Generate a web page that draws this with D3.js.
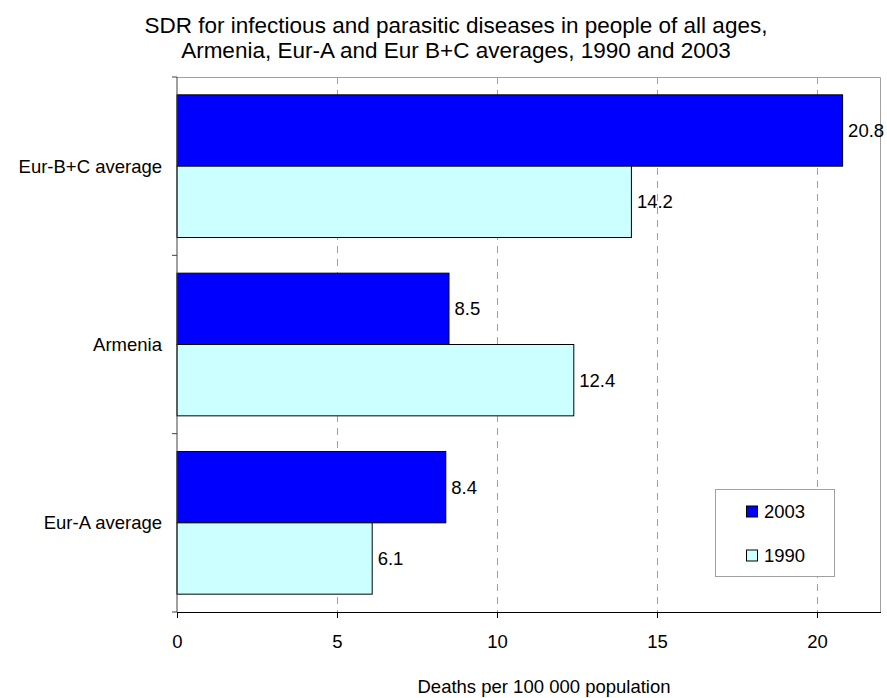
<!DOCTYPE html>
<html><head><meta charset="utf-8">
<script src="https://cdn.jsdelivr.net/npm/d3@7"></script>
<style>body{margin:0;background:#fff;font-family:"Liberation Sans",Arial,sans-serif;}</style>
</head><body><svg id="c" width="887" height="698"></svg>
<script>
const categories = ["Eur-B+C average", "Armenia", "Eur-A average"];
const series = ["2003", "1990"];
const values2003 = [20.8, 8.5, 8.4];
const values1990 = [14.2, 12.4, 6.1];
const xTicks = [0, 5, 10, 15, 20];
const colors = {"2003": "#0000FF", "1990": "#CCFFFF"};
const titleLines = ["SDR for infectious and parasitic diseases in people of all ages,", "Armenia, Eur-A and Eur B+C averages, 1990 and 2003"];
const xTitle = "Deaths per 100 000 population";

const FS = 18.5, TFS = 22.5;
const svg = d3.select("#c").attr("font-family", "Liberation Sans, Arial, sans-serif");
const L = 177, R = 881, T = 77, B = 612;
const x = d3.scaleLinear().domain([0, 22]).range([L, R]);
const y = d3.scaleBand().domain(categories).range([T, B]).paddingInner(0.2).paddingOuter(0.1);
const ys = d3.scaleBand().domain(series).range([0, y.bandwidth()]);

// border top/right
svg.append("path").attr("d", `M${L},${T + 0.5}H${R - 0.5}V${B}`).attr("fill", "none").attr("stroke", "#a0a0a0").attr("stroke-width", 1);
// grid
svg.selectAll(".g").data(xTicks.filter(d => d > 0)).enter().append("line")
  .attr("x1", d => Math.round(x(d)) + 0.5).attr("x2", d => Math.round(x(d)) + 0.5).attr("y1", T).attr("y2", B)
  .attr("stroke", "#a0a0a0").attr("stroke-dasharray", "7,6");

const data = categories.map((c, i) => ({c, v: {"2003": values2003[i], "1990": values1990[i]}}));
data.forEach(d => {
  series.forEach(s => {
    const yy = y(d.c) + ys(s);
    svg.append("rect").attr("x", x(0)).attr("y", yy).attr("width", x(d.v[s]) - x(0)).attr("height", ys.bandwidth())
      .attr("fill", colors[s]).attr("stroke", "#000").attr("stroke-width", 1);
    svg.append("text").attr("x", x(d.v[s]) + 5.5).attr("y", yy + ys.bandwidth() / 2).attr("dy", "0.35em")
      .attr("font-size", FS).attr("fill", "#000").text(d.v[s].toFixed(1));
  });
});

// axes
const xa = svg.append("g").attr("transform", `translate(0,${B})`)
  .call(d3.axisBottom(x).tickValues(xTicks).tickSize(6).tickPadding(17).tickFormat(d3.format("d")));
xa.select(".domain").attr("stroke", "#000").attr("d", `M${L},0.5H${R}`);
xa.selectAll(".tick line").attr("stroke", "#000");
xa.selectAll("text").attr("font-size", FS).attr("font-family", "Liberation Sans, Arial, sans-serif").attr("fill", "#000");

svg.append("line").attr("x1", L).attr("x2", L).attr("y1", T).attr("y2", B).attr("stroke", "#404040");
const bounds = [T].concat(categories.map(c => y(c) + y.bandwidth() + y.step() * 0.1));
svg.selectAll(".yt").data(bounds).enter().append("line")
  .attr("x1", L - 5).attr("x2", L).attr("y1", d => d).attr("y2", d => d).attr("stroke", "#404040");
svg.selectAll(".yl").data(categories).enter().append("text")
  .attr("x", 162).attr("y", d => y(d) + y.bandwidth() / 2).attr("dy", "0.35em")
  .attr("text-anchor", "end").attr("font-size", FS).text(d => d);

// titles
svg.selectAll(".t").data(titleLines).enter().append("text")
  .attr("x", 456).attr("y", (d, i) => 33 + i * 25).attr("text-anchor", "middle").attr("font-size", TFS).text(d => d);
svg.append("text").attr("x", 544).attr("y", 693).attr("text-anchor", "middle").attr("font-size", FS).text(xTitle);

// legend
const lg = svg.append("g");
lg.append("rect").attr("x", 715.5).attr("y", 489.5).attr("width", 119).attr("height", 87).attr("fill", "#fff").attr("stroke", "#a0a0a0");
series.forEach((s, i) => {
  const cy = 511.5 + i * 44;
  lg.append("rect").attr("x", 746.5).attr("y", cy - 5.5).attr("width", 11).attr("height", 11).attr("fill", colors[s]).attr("stroke", "#000");
  lg.append("text").attr("x", 764).attr("y", cy).attr("dy", "0.35em").attr("font-size", FS).text(s);
});
</script></body></html>
